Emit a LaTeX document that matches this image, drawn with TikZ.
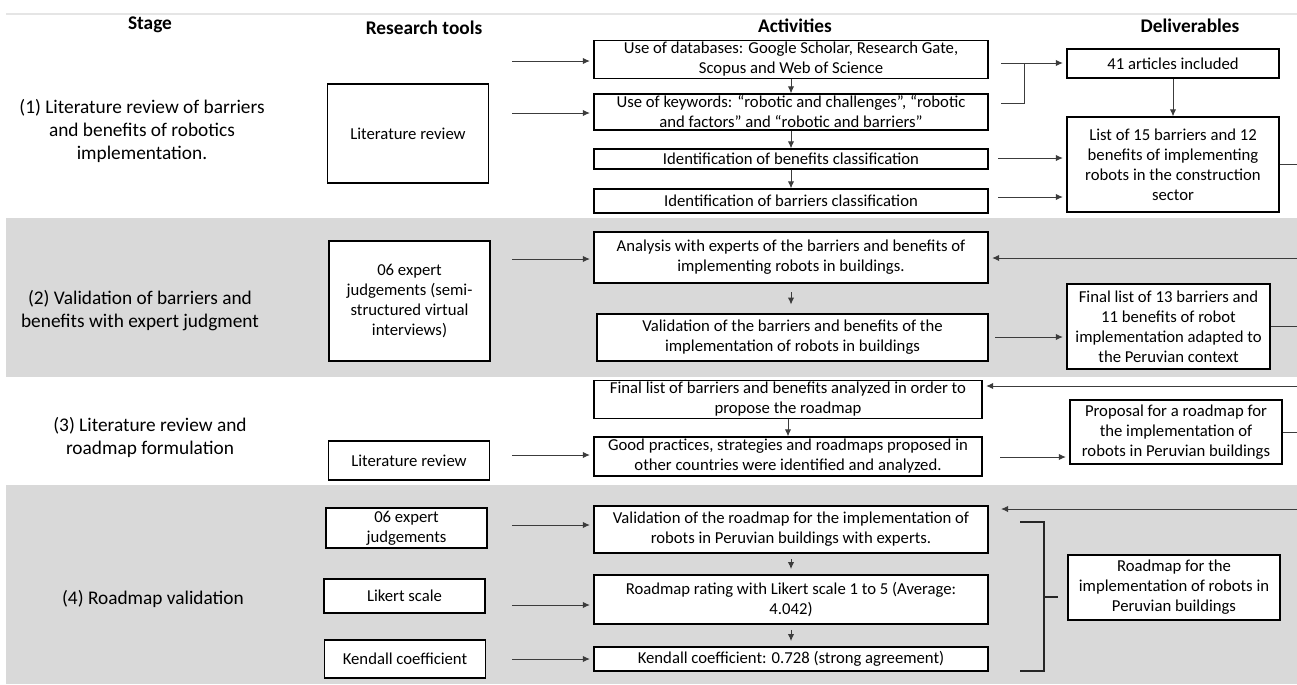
\documentclass[tikz,border=0pt]{standalone}
\usepackage{fontspec}
\setmainfont{Carlito}
\usetikzlibrary{arrows.meta}
\definecolor{bandGray}{RGB}{217,217,217}
\definecolor{lineGray}{RGB}{60,60,60}

\begin{document}
\begin{tikzpicture}[
    x=0.02cm, y=-0.02cm,
    >={Latex[length=4pt,width=3.6pt]},
    block/.style={draw, rectangle, align=center, inner sep=1pt, fill=white, line width=0.75pt, font=\fontsize{9.5}{11.4}\selectfont},
    tool/.style={block, minimum width=3.22cm},
    activity/.style={block, minimum width=7.88cm},
    deliverable/.style={block, minimum width=4.24cm},
    headStyle/.style={font=\fontsize{11}{13}\selectfont\bfseries},
    stageStyle/.style={font=\fontsize{11}{13.1}\selectfont, align=center},
    link/.style={->, line width=0.55pt, draw=lineGray},
    plain/.style={line width=0.55pt, draw=lineGray}
]
\useasboundingbox (0,0) rectangle (1297,684);

% ----------------------------------------------------
% Background bands
% ----------------------------------------------------
\fill[bandGray] (6,218) rectangle (1297,377);
\fill[bandGray] (6,485) rectangle (1297,684);
\draw[gray!20, line width=1pt] (6,14) -- (1297,14);

% ----------------------------------------------------
% Column headers
% ----------------------------------------------------
\node[headStyle] (HStage) at (150,25) {Stage};
\node[headStyle] (HTools) at (424,28) {Research tools};
\node[headStyle] (HAct) at (795,26) {Activities};
\node[headStyle] (HDel) at (1190,26) {Deliverables};

% ----------------------------------------------------
% Stages
% ----------------------------------------------------
\node[stageStyle] (S1) at (142,131) {(1) Literature review of barriers\\and benefits of robotics\\implementation.};
\node[stageStyle] (S2) at (140,311) {(2) Validation of barriers and\\benefits with expert judgment};
\node[stageStyle] (S3) at (150,437) {(3) Literature review and\\roadmap formulation};
\node[stageStyle] (S4) at (153,599) {(4) Roadmap validation};

% ----------------------------------------------------
% Research tools
% ----------------------------------------------------
\node[tool, minimum height=1.98cm] (LitRev1) at (408,133.5) {Literature review};
\node[tool, minimum height=2.4cm] (Expert2) at (409.5,301) {06 expert\\judgements (semi-\\structured virtual\\interviews)};
\node[tool, minimum height=0.78cm] (LitRev3) at (409,460.5) {Literature review};
\node[tool, minimum height=0.8cm] (Expert4) at (406.5,528) {06 expert\\judgements};
\node[tool, minimum height=0.68cm] (Likert) at (404.5,596) {Likert scale};
\node[tool, minimum height=0.76cm] (Kendall) at (405,659) {Kendall coefficient};

% ----------------------------------------------------
% Activities
% ----------------------------------------------------
\node[activity, minimum height=0.74cm] (A1) at (791,59.5) {Use of databases: Google Scholar, Research Gate,\\Scopus and Web of Science};
\node[activity, minimum height=0.72cm] (A2) at (791,112) {Use of keywords: “robotic and challenges”, “robotic\\and factors” and “robotic and barriers”};
\node[activity, minimum height=0.4cm] (A3) at (791,159) {Identification of benefits classification};
\node[activity, minimum height=0.48cm] (A4) at (791,201) {Identification of barriers classification};

\node[activity, minimum height=1.02cm] (B1) at (791,257.5) {Analysis with experts of the barriers and benefits of\\implementing robots in buildings.};
\node[activity, minimum width=7.82cm, minimum height=0.94cm] (B2) at (792.5,337.5) {Validation of the barriers and benefits of the\\implementation of robots in buildings};

\node[activity, minimum width=7.76cm, minimum height=0.74cm] (C1) at (788,399.5) {Final list of barriers and benefits analyzed in order to\\propose the roadmap};
\node[activity, minimum width=7.76cm, minimum height=0.78cm] (C2) at (788,456.5) {Good practices, strategies and roadmaps proposed in\\other countries were identified and analyzed.};

\node[activity, minimum height=0.94cm] (D1) at (791,529.5) {Validation of the roadmap for the implementation of\\robots in Peruvian buildings with experts.};
\node[activity, minimum height=0.98cm] (D2) at (791,599.5) {Roadmap rating with Likert scale 1 to 5 (Average:\\4.042)};
\node[activity, minimum height=0.48cm] (D3) at (791,659) {Kendall coefficient: 0.728 (strong agreement)};

% ----------------------------------------------------
% Deliverables
% ----------------------------------------------------
\node[deliverable, minimum height=0.58cm] (E1) at (1173,63.5) {41 articles included};
\node[deliverable, minimum height=1.9cm] (E2) at (1173,164.5) {List of 15 barriers and 12\\benefits of implementing\\robots in the construction\\sector};
\node[deliverable, minimum width=4.06cm, minimum height=1.7cm] (F1) at (1168.5,326.5) {Final list of 13 barriers and\\11 benefits of robot\\implementation adapted to\\the Peruvian context};
\node[deliverable, minimum height=1.28cm] (G1) at (1176,432) {Proposal for a roadmap for\\the implementation of\\robots in Peruvian buildings};
\node[deliverable, minimum height=1.3cm] (H1) at (1174,587.5) {Roadmap for the\\implementation of robots in\\Peruvian buildings};

% ----------------------------------------------------
% Tools -> activities
% ----------------------------------------------------
\coordinate (inA1) at (512,61);
\coordinate (inA2) at (512,113);
\coordinate (inB1) at (512,259);
\coordinate (inC2) at (512,455);
\coordinate (inD1) at (512,525);
\coordinate (inD2) at (512,605);
\coordinate (inD3) at (512,659);
\draw[link, shorten >=2pt] (inA1) -- (inA1 -| A1.west);
\draw[link, shorten >=2pt] (inA2) -- (inA2 -| A2.west);
\draw[link, shorten >=2pt] (inB1) -- (inB1 -| B1.west);
\draw[link, shorten >=2pt] (inC2) -- (inC2 -| C2.west);
\draw[link, shorten >=2pt] (inD1) -- (inD1 -| D1.west);
\draw[link, shorten >=2pt] (inD2) -- (inD2 -| D2.west);
\draw[link, shorten >=2pt] (inD3) -- (inD3 -| D3.west);

% ----------------------------------------------------
% Activity chains
% ----------------------------------------------------
\draw[link] (A1) -- (A2);
\draw[link] (A2) -- (A3);
\draw[link] (A3) -- (A4);
\draw[link, shorten <=5pt, shorten >=5pt] (B1) -- (B1 |- B2.north);
\draw[link] (C1) -- (C2);
\draw[link, shorten <=3pt, shorten >=3pt] (D1) -- (D2);
\draw[link, shorten <=3pt, shorten >=3pt] (D2) -- (D3);

% ----------------------------------------------------
% Activities -> deliverables
% ----------------------------------------------------
\coordinate (edge) at (1297,0);
\coordinate (outA1) at (1001,63);
\coordinate (outA2) at (1001,103);
\coordinate (joinA) at (1024,63);
\draw[link, shorten >=2pt] (outA1) -- (outA1 -| E1.west);
\draw[plain] (outA2) -| (joinA);
\draw[link] (E1) -- (E2);

\coordinate (outA3) at (998,158);
\coordinate (outA4) at (998,197);
\draw[link, shorten >=2pt] (outA3) -- (outA3 -| E2.west);
\draw[link, shorten >=2pt] (outA4) -- (outA4 -| E2.west);

\coordinate (outB2) at (995,337);
\draw[link, shorten >=2pt] (outB2) -- (outB2 -| F1.west);

\coordinate (outC2) at (1000,457);
\draw[link, shorten >=2pt] (outC2) -- (outC2 -| G1.west);

% ----------------------------------------------------
% Feedback lines along the right edge
% ----------------------------------------------------
\draw[plain] (E2.east) -- (E2.east -| edge);
\draw[plain] (F1.east) -- (F1.east -| edge);
\draw[plain] (G1.east) -- (G1.east -| edge);

\coordinate (backB1) at (1297,258);
\coordinate (backC1) at (1297,386);
\coordinate (backD1) at (1297,509);
\coordinate (tipD1) at (1001,509);
\draw[link, shorten >=2pt] (backB1) -- (backB1 -| B1.east);
\draw[link, shorten >=2pt] (backC1) -- (backC1 -| C1.east);
\draw[link] (backD1) -- (tipD1);

% ----------------------------------------------------
% Bracket to the final roadmap
% ----------------------------------------------------
\draw[line width=1.6pt, draw=black!85] (1020,522) -| (1044,671) -- (1020,671);
\draw[line width=1.6pt, draw=black!85] (1044,597) -- (1058,597);

\end{tikzpicture}
\end{document}
